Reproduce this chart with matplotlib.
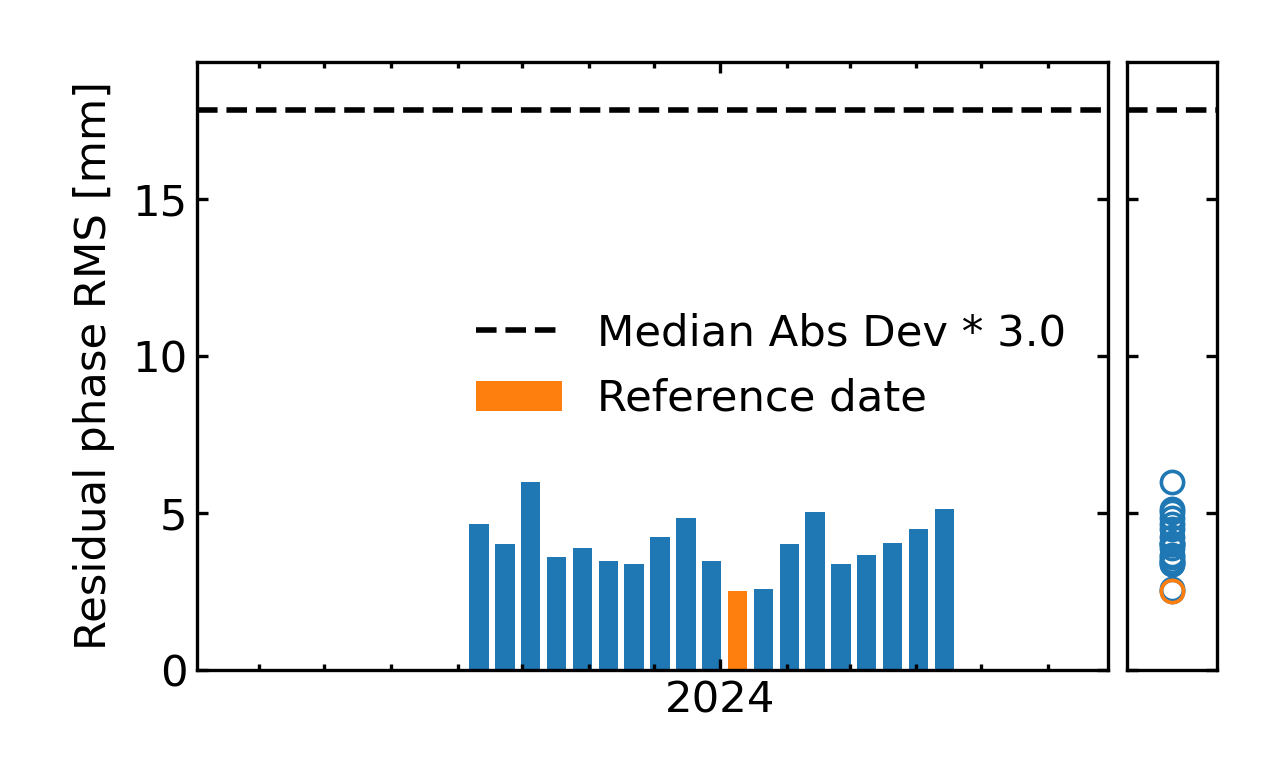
import numpy as np
import matplotlib
matplotlib.use("Agg")
import matplotlib.pyplot as plt
import matplotlib.dates as mdates
from matplotlib.patches import Patch
from matplotlib.lines import Line2D

# acquisition dates, 12 day repeat
dates = np.arange(np.datetime64("2023-09-11"), np.datetime64("2024-04-20"), np.timedelta64(12, "D"))
rms = [4.64, 4.00, 5.97, 3.61, 3.89, 3.48, 3.36, 4.24, 4.85, 3.48,
       2.51, 2.59, 4.00, 5.02, 3.36, 3.65, 4.03, 4.50, 5.13]
ref_index = 10
threshold = 17.83
xlim = (np.datetime64("2023-05-03"), np.datetime64("2024-06-29"))
ylim = (0, 19.36)

blue = "#1f77b4"
orange = "#ff7f0e"

plt.rcParams["font.size"] = 15.6
plt.rcParams["axes.linewidth"] = 1.2

fig = plt.figure(figsize=(6.4, 3.835), dpi=200)
ax = fig.add_axes([0.1539, 0.1265, 0.7117, 0.7927])
ax2 = fig.add_axes([0.8805, 0.1265, 0.0703, 0.7927])

colors = [orange if i == ref_index else blue for i in range(len(rms))]
ax.bar(dates, rms, width=9, color=colors)
ax.axhline(threshold, color="k", ls="--", lw=2)
ax.set_xlim(xlim)
ax.set_ylim(ylim)
ax.xaxis.set_major_locator(mdates.YearLocator())
ax.xaxis.set_major_formatter(mdates.DateFormatter("%Y"))
ax.xaxis.set_minor_locator(mdates.MonthLocator())
ax.set_yticks([0, 5, 10, 15])
ax.tick_params(which="both", direction="in", top=True, right=True, width=1.2)
ax.tick_params(which="major", length=4)
ax.tick_params(which="minor", length=2)
ax.set_ylabel("Residual phase RMS [mm]", labelpad=6)

handles = [Line2D([], [], color="k", ls="--", lw=2),
           Patch(facecolor=orange)]
ax.legend(handles, ["Median Abs Dev * 3.0", "Reference date"],
          loc="center", bbox_to_anchor=(0.63, 0.5), frameon=False,
          handlelength=2.0, handletextpad=0.8, labelspacing=0.55)

# distribution panel
ax2.plot(np.zeros(len(rms)), rms, "o", mfc="none", mec=blue, ms=8, mew=1.3)
ax2.plot([0], [rms[ref_index]], "o", mfc="none", mec=orange, ms=8, mew=1.3)
ax2.axhline(threshold, color="k", ls="--", lw=2)
ax2.set_ylim(ylim)
ax2.set_xlim(-1, 1)
ax2.set_xticks([])
ax2.set_yticks([0, 5, 10, 15])
ax2.tick_params(direction="in", left=True, right=True, labelleft=False,
                length=4, width=1.2)

fig.savefig("out.png", dpi=200)
